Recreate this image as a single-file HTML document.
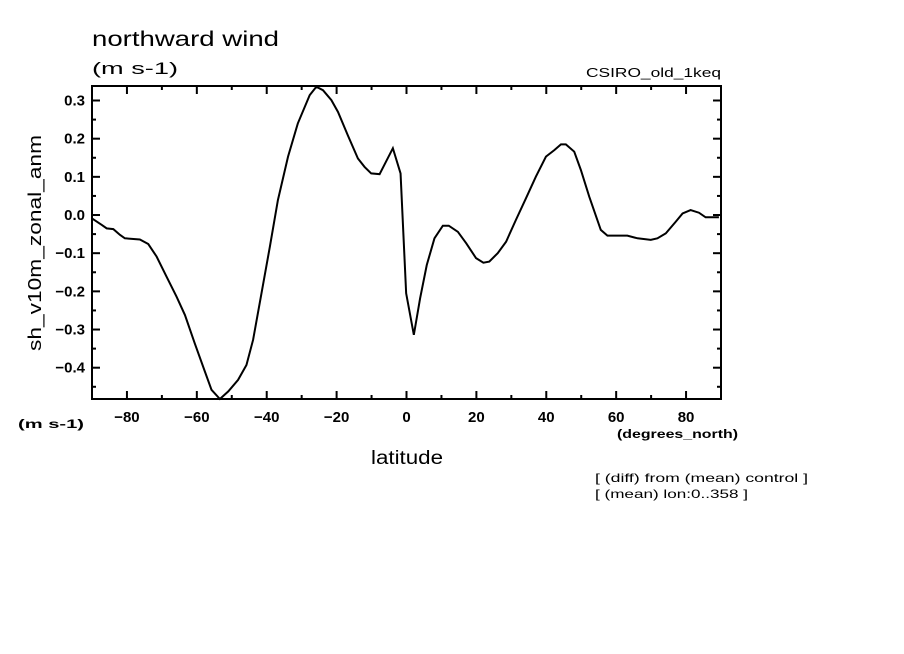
<!DOCTYPE html>
<html><head><meta charset="utf-8"><style>
html,body{margin:0;padding:0;background:#fff;}
svg{display:block;font-family:"Liberation Sans",sans-serif;}
</style></head><body>
<svg id="chart" width="904" height="654" viewBox="0 0 904 654">
<rect width="904" height="654" fill="#fff"/>
<text x="92" y="46" font-size="21" textLength="187" lengthAdjust="spacingAndGlyphs">northward wind</text>
<text x="92" y="74" font-size="17" textLength="86" lengthAdjust="spacingAndGlyphs">(m s-1)</text>
<text x="586" y="77" font-size="13" textLength="135" lengthAdjust="spacingAndGlyphs">CSIRO_old_1keq</text>
<text x="371" y="464" font-size="19" textLength="72" lengthAdjust="spacingAndGlyphs">latitude</text>
<text x="41" y="243" font-size="18" text-anchor="middle" textLength="216" lengthAdjust="spacingAndGlyphs" transform="rotate(-90 41 243)">sh_v10m_zonal_anm</text>
<text x="18" y="428" font-size="12" font-weight="bold" textLength="66" lengthAdjust="spacingAndGlyphs">(m s-1)</text>
<text x="617" y="438" font-size="12" font-weight="bold" textLength="121" lengthAdjust="spacingAndGlyphs">(degrees_north)</text>
<text x="595" y="482" font-size="12" textLength="213" lengthAdjust="spacingAndGlyphs">[ (diff) from (mean) control ]</text>
<text x="595" y="498" font-size="12" textLength="153" lengthAdjust="spacingAndGlyphs">[ (mean) lon:0..358 ]</text>
<g id="axes"></g>
<g id="series"></g>
<rect x="92" y="86" width="629" height="313" fill="none" stroke="#000" stroke-width="2"/>
</svg>
<script>
const lats=[-90,-87.2,-85.8,-83.9,-82,-80.6,-76.3,-73.9,-71.5,-68.7,-65.8,-63.4,-60.6,-57.7,-55.8,-53.4,-51,-48.2,-45.8,-43.9,-41.5,-39.1,-36.8,-33.9,-31.1,-27.7,-25.8,-23.9,-21.5,-19.6,-16.8,-13.9,-12,-10.1,-7.7,-3.9,-1.7,-0.1,2.1,3.9,5.8,8,10.4,12.1,14.7,17.1,19.9,22,23.7,26.1,28.5,31.3,34.2,37,39.9,42.3,44.2,45.6,48,49.9,52.3,55.6,57.5,63.2,66.1,69.9,71.8,74.2,77.1,79,81.3,83.7,85.6,89.4];
const vals=[-0.009,-0.026,-0.035,-0.037,-0.052,-0.061,-0.064,-0.076,-0.109,-0.161,-0.214,-0.262,-0.336,-0.41,-0.458,-0.485,-0.462,-0.432,-0.393,-0.327,-0.205,-0.083,0.039,0.153,0.24,0.314,0.336,0.327,0.301,0.27,0.209,0.148,0.126,0.109,0.107,0.175,0.109,-0.205,-0.314,-0.218,-0.131,-0.061,-0.028,-0.028,-0.044,-0.074,-0.113,-0.125,-0.122,-0.1,-0.07,-0.013,0.044,0.1,0.153,0.17,0.185,0.185,0.166,0.118,0.048,-0.039,-0.054,-0.054,-0.061,-0.065,-0.061,-0.048,-0.017,0.004,0.013,0.006,-0.006,-0.006];
const xTicks=[-80,-60,-40,-20,0,20,40,60,80];
const yTicks=[0.3,0.2,0.1,0.0,-0.1,-0.2,-0.3,-0.4];
const yTickLabels=["0.3","0.2","0.1","0.0","-0.1","-0.2","-0.3","-0.4"];
const L=92,R=721,T=86,B=399,XMIN=-90,XMAX=90,YMIN=-0.482,YMAX=0.338;
const sx=v=>L+(v-XMIN)/(XMAX-XMIN)*(R-L);
const sy=v=>B-(v-YMIN)/(YMAX-YMIN)*(B-T);
const NS="http://www.w3.org/2000/svg";
const axes=document.getElementById('axes');
function ln(x1,y1,x2,y2,name){const e=document.createElementNS(NS,'line');
e.setAttribute('x1',x1);e.setAttribute('y1',y1);e.setAttribute('x2',x2);e.setAttribute('y2',y2);
e.setAttribute('stroke','#000');e.setAttribute('stroke-width','2');


axes.appendChild(e);}
for(let v=-80;v<=80;v+=10){const x=sx(v);const len=(v%20===0)?8:4;
ln(x,B,x,B-len,'x-tick');ln(x,T,x,T+len,'x-tick-top');}
for(let v=-0.45;v<=0.31;v+=0.05){const y=sy(v);const major=Math.abs(Math.round(v*100))%10===0;const len=major?8:4;
ln(L,y,L+len,y,'y-tick');ln(R,y,R-len,y,'y-tick-right');}
xTicks.forEach(v=>{const t=document.createElementNS(NS,'text');
t.setAttribute('x',sx(v));t.setAttribute('y',B+23);t.setAttribute('text-anchor','middle');t.setAttribute('font-size','15');t.setAttribute('font-weight','bold');
t.textContent=String(v).replace('-','\u2212');


axes.appendChild(t);});
yTicks.forEach((v,i)=>{const t=document.createElementNS(NS,'text');
t.setAttribute('x',L-7);t.setAttribute('y',sy(v)+5);t.setAttribute('text-anchor','end');t.setAttribute('font-size','15');t.setAttribute('font-weight','bold');
t.textContent=yTickLabels[i].replace('-','\u2212');


axes.appendChild(t);});
const p=document.createElementNS(NS,'polyline');
p.setAttribute('points',lats.map((a,i)=>sx(a)+','+Math.min(B,sy(vals[i]))).join(' '));
p.setAttribute('fill','none');p.setAttribute('stroke','#000');p.setAttribute('stroke-width','2');


document.getElementById('series').appendChild(p);
</script>
</body></html>
